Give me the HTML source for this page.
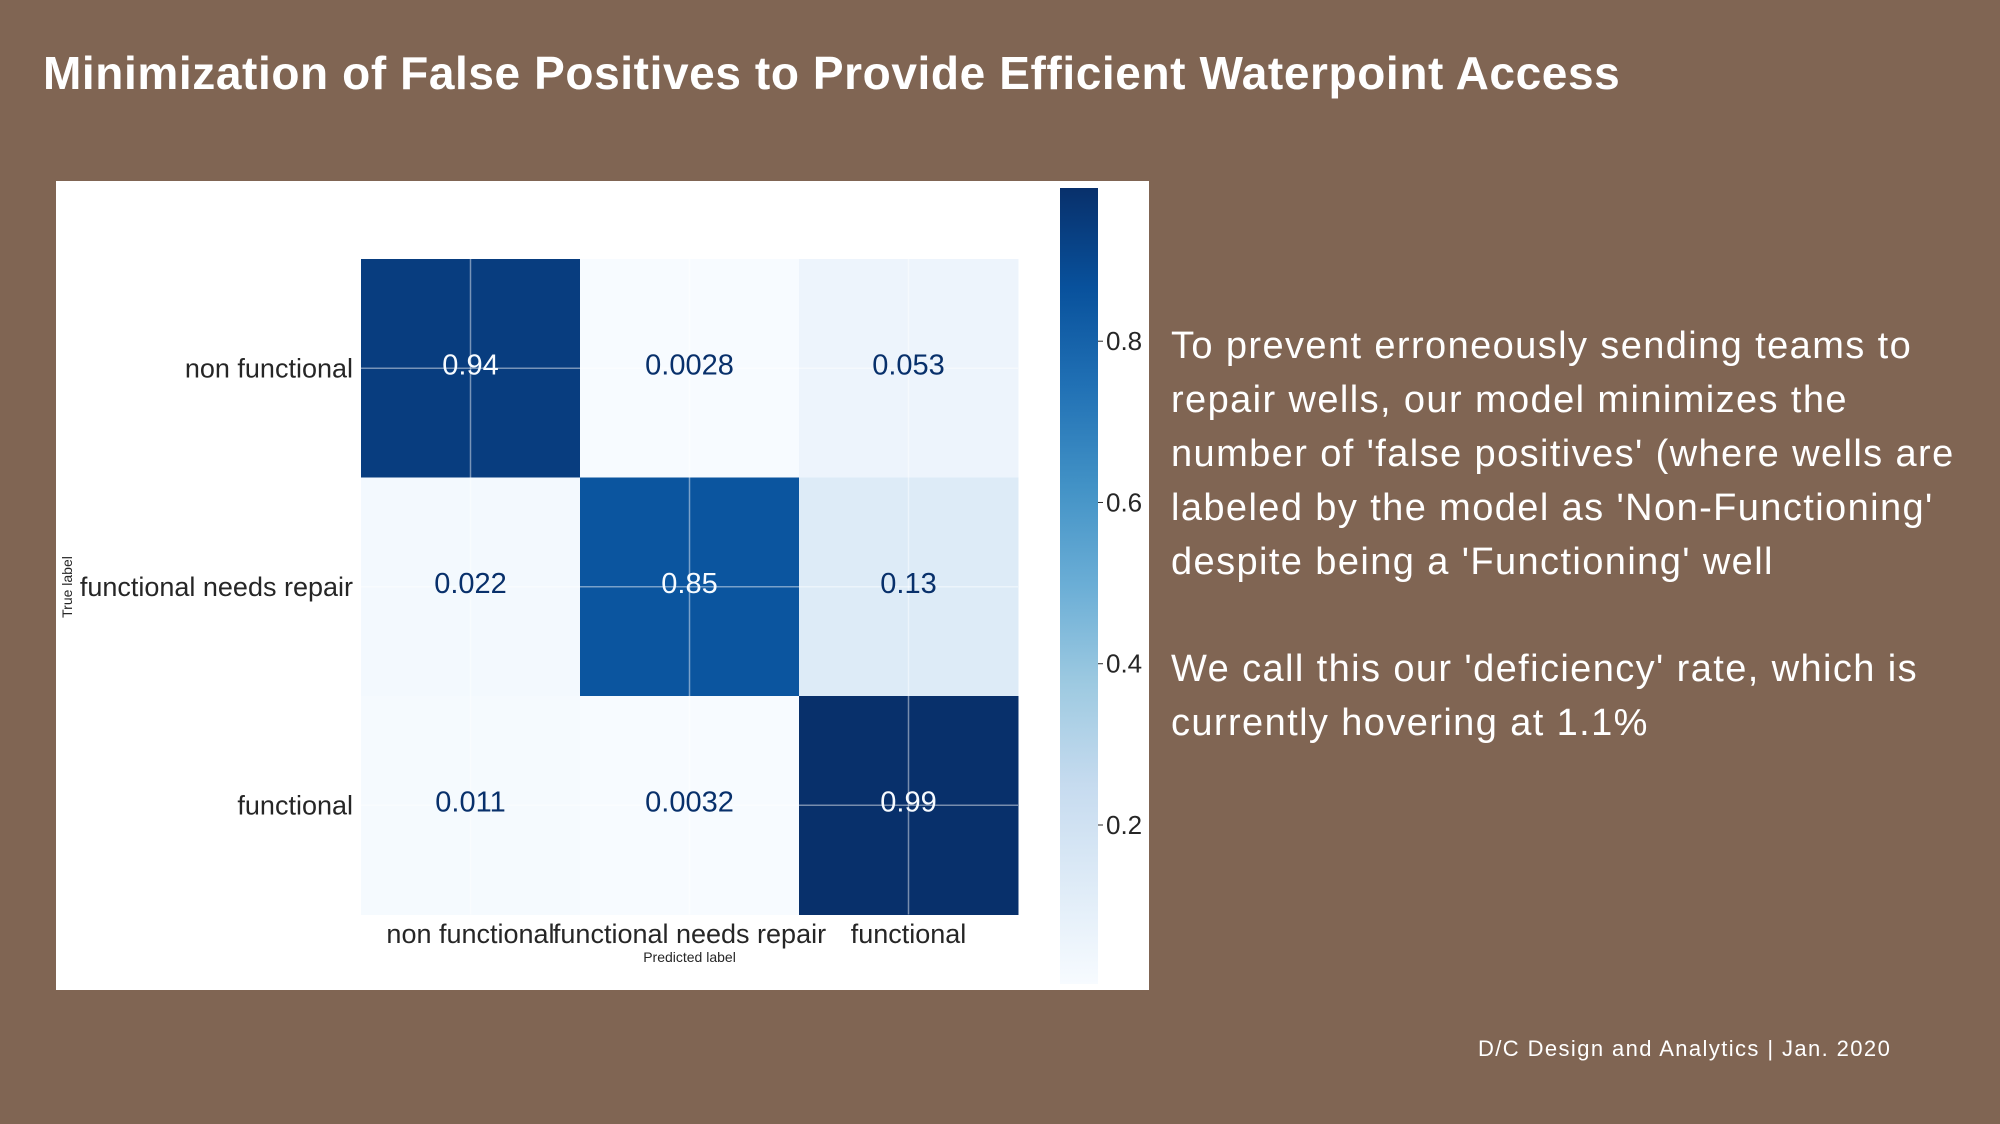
<!DOCTYPE html>
<html><head><meta charset="utf-8">
<style>
html,body{margin:0;padding:0}
body{width:2000px;height:1124px;background:#806553;position:relative;overflow:hidden;font-family:"Liberation Sans",sans-serif}
#title{position:absolute;left:43px;top:46px;color:#fff;font-weight:bold;font-size:46px;letter-spacing:0.6px;white-space:nowrap}
#panel{position:absolute;left:56px;top:181px;width:1093px;height:809px;background:#fff}
.para{position:absolute;left:1171px;color:#fff;font-size:38px;letter-spacing:1.4px;line-height:54px;white-space:nowrap}
#footer{position:absolute;left:1478px;top:1036px;color:#fff;font-size:22px;letter-spacing:1.4px;white-space:nowrap}
</style></head><body>
<div id="title">Minimization of False Positives to Provide Efficient Waterpoint Access</div>
<div id="panel">
<svg id="chart" width="1093" height="809"></svg>
</div>
<div class="para" style="top:319px">To prevent erroneously sending teams to<br>repair wells, our model minimizes the<br>number of 'false positives' (where wells are<br>labeled by the model as 'Non-Functioning'<br>despite being a 'Functioning' well</div>
<div class="para" style="top:642px">We call this our 'deficiency' rate, which is<br>currently hovering at 1.1%</div>
<div id="footer">D/C Design and Analytics | Jan. 2020</div>
<script>
const categories = ["non functional","functional needs repair","functional"];
const rowNonFunctional = [0.94, 0.0028, 0.053];
const rowNeedsRepair = [0.022, 0.85, 0.13];
const rowFunctional = [0.011, 0.0032, 0.99];
const valueLabels = [["0.94","0.0028","0.053"],["0.022","0.85","0.13"],["0.011","0.0032","0.99"]];
const colorbarTicks = [0.2, 0.4, 0.6, 0.8];

const rows = [rowNonFunctional, rowNeedsRepair, rowFunctional];
const NS = "http://www.w3.org/2000/svg";
const svg = document.getElementById('chart');
const all = rows.flat();
const vmin = Math.min(...all), vmax = Math.max(...all);
const stops = ["#f7fbff","#deebf7","#c6dbef","#9ecae1","#6baed6","#4292c6","#2171b5","#08519c","#08306b"];
function hex(h){return [1,3,5].map(i=>parseInt(h.substr(i,2),16));}
function cmap(v){
  let t=(v-vmin)/(vmax-vmin); t=Math.max(0,Math.min(1,t));
  const p=t*8, i=Math.min(7,Math.floor(p)), f=p-i;
  const a=hex(stops[i]), b=hex(stops[i+1]);
  return 'rgb('+a.map((x,k)=>Math.round(x+(b[k]-x)*f)).join(',')+')';
}
const px0=305, py0=78, cw=219, ch=218.5;
const xPos = j => px0 + j*cw;
const yPos = i => py0 + i*ch;
function el(tag, attrs){const e=document.createElementNS(NS,tag);for(const k in attrs)e.setAttribute(k,attrs[k]);svg.appendChild(e);return e;}
rows.forEach((row,i)=>{
  row.forEach((v,j)=>{
    const r=el('rect',{x:xPos(j),y:yPos(i),width:cw+0.5,height:ch+0.5,fill:cmap(v)});
    
    
  });
});
categories.forEach((c,k)=>{
  el('line',{x1:xPos(k)+cw/2,x2:xPos(k)+cw/2,y1:py0,y2:py0+3*ch,stroke:'rgba(255,255,255,0.45)','stroke-width':1.5});
  el('line',{y1:yPos(k)+ch/2,y2:yPos(k)+ch/2,x1:px0,x2:px0+3*cw,stroke:'rgba(255,255,255,0.45)','stroke-width':1.5});
});
rows.forEach((row,i)=>{
  row.forEach((v,j)=>{
    const t=el('text',{x:xPos(j)+cw/2,y:yPos(i)+ch/2+6,'text-anchor':'middle','font-size':29,fill:(v>0.5?'#f7fbff':'#08306b')});
    t.textContent=valueLabels[i][j];
    
    
  });
});
categories.forEach((c,i)=>{
  const t=el('text',{x:297,y:yPos(i)+ch/2+9,'text-anchor':'end','font-size':27,fill:'#262626'});
  t.textContent=c;
  
  
  const u=el('text',{x:xPos(i)+cw/2,y:762,'text-anchor':'middle','font-size':27,fill:'#262626'});
  u.textContent=c;
  
  
});
const xl=el('text',{x:xPos(1)+cw/2,y:781,'text-anchor':'middle','font-size':14,fill:'#262626'});
xl.textContent='Predicted label';


const yl=el('text',{x:0,y:0,'text-anchor':'middle','font-size':14,fill:'#262626',transform:'translate(16,406) rotate(-90)'});
yl.textContent='True label';


const cbx=1004, cby0=7, cbh=796, cbw=38;
const cbY = v => cby0 + cbh*(1-(v-vmin)/(vmax-vmin));
const defs=el('defs',{});
const grad=document.createElementNS(NS,'linearGradient');
grad.setAttribute('id','cbg');grad.setAttribute('x1','0');grad.setAttribute('y1','1');grad.setAttribute('x2','0');grad.setAttribute('y2','0');
stops.forEach((s,k)=>{const st=document.createElementNS(NS,'stop');st.setAttribute('offset',k/8);st.setAttribute('stop-color',s);grad.appendChild(st);});
defs.appendChild(grad);
const cb=el('rect',{x:cbx,y:cby0,width:cbw,height:cbh,fill:'url(#cbg)'});


colorbarTicks.forEach(v=>{
  const y=cbY(v);
  el('line',{x1:cbx+cbw,x2:cbx+cbw+5,y1:y,y2:y,stroke:'#262626','stroke-width':1});
  const t=el('text',{x:cbx+cbw+8,y:y+9,'font-size':26,fill:'#262626'});
  t.textContent=v.toFixed(1);
  
  
});
</script>
</body></html>
